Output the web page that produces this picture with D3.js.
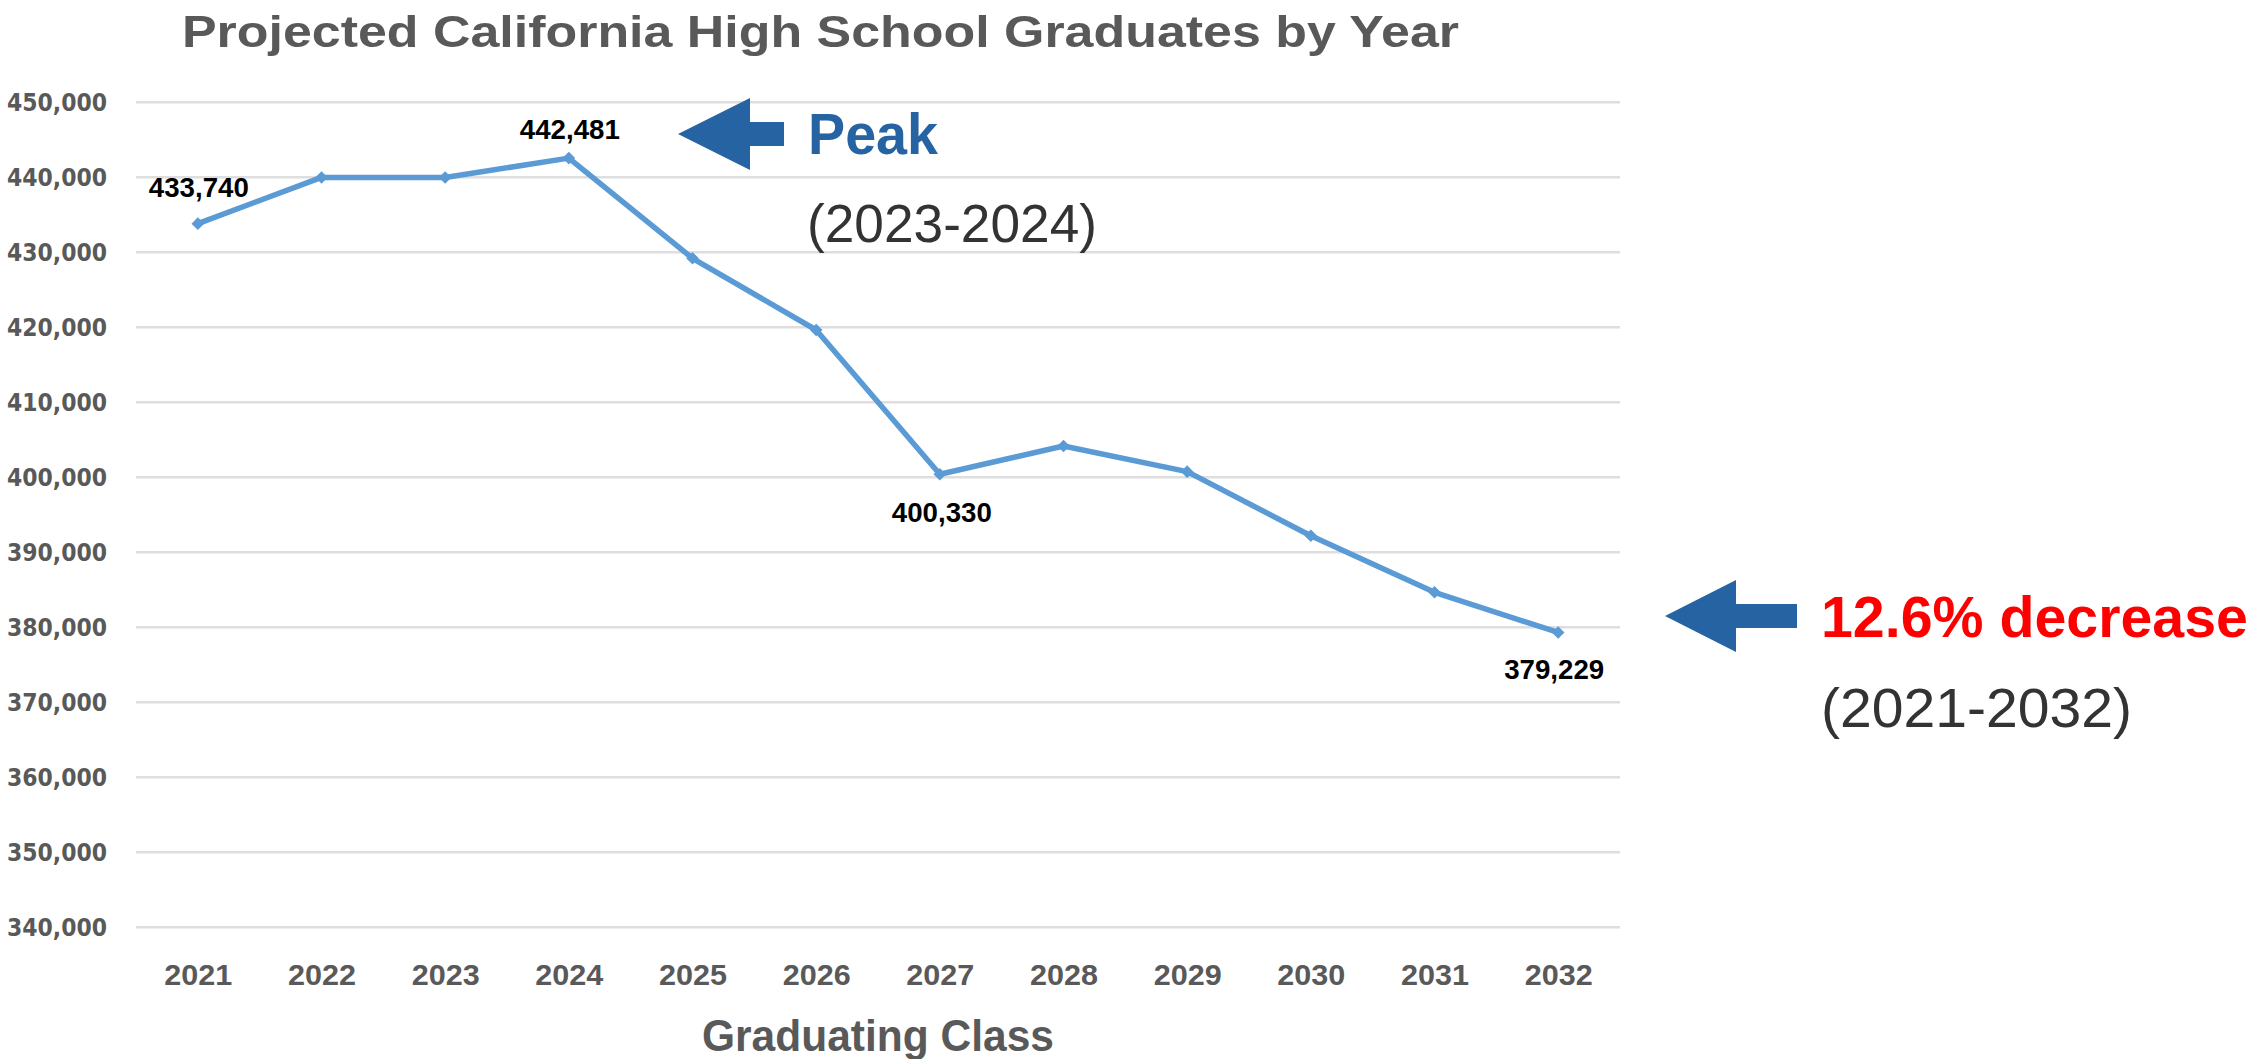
<!DOCTYPE html>
<html>
<head>
<meta charset="utf-8">
<script src="https://cdn.jsdelivr.net/npm/d3@7"></script>
<style>
  html, body { margin: 0; padding: 0; background: #ffffff; }
  svg { display: block; }
</style>
</head>
<body>
<div id="viz"></div>
<script>
// chart values
const years = [2021, 2022, 2023, 2024, 2025, 2026, 2027, 2028, 2029, 2030, 2031, 2032];
const graduates = [433740, 439900, 439900, 442481, 429120, 419560, 400330, 404090, 400670, 392130, 384590, 379229];
const yTicks = [340000, 350000, 360000, 370000, 380000, 390000, 400000, 410000, 420000, 430000, 440000, 450000];
const labelledYears = [2021, 2024, 2027, 2032];

const titleText = "Projected California High School Graduates by Year";
const xTitle = "Graduating Class";

const W = 2254, H = 1059;
//plot area edges (don't call these top/left, those clash with window globals)
const plotLeft = 136, plotRight = 1620, plotTop = 101.7, plotBottom = 926.7;

const svg = d3.select("#viz")
  .append("svg")
  .attr("width", W)
  .attr("height", H);

const x = d3.scalePoint()
  .domain(years)
  .range([plotLeft, plotRight])
  .padding(0.5);

const y = d3.scaleLinear()
  .domain([340000, 450000])
  .range([plotBottom, plotTop]);

const grey = "#595959";
const boldFont = "'Liberation Sans', Arial, sans-serif";

// title
svg.append("text")
  .attr("x", 182)
  .attr("y", 47)
  .attr("font-family", boldFont)
  .attr("font-weight", "bold")
  .attr("font-size", 45)
  .attr("fill", grey)
  .attr("textLength", 1277)
  .attr("lengthAdjust", "spacingAndGlyphs")
  .text(titleText);

// y axis + gridlines
const yAxis = svg.append("g")
  .attr("transform", `translate(${plotLeft},0)`)
  .call(d3.axisLeft(y)
    .tickValues(yTicks)
    .tickSize(-(plotRight - plotLeft))
    .tickPadding(29)
    .tickFormat(d3.format(",")));

yAxis.select(".domain").remove();
yAxis.selectAll(".tick line")
  .attr("stroke", "#dedede")
  .attr("stroke-width", 2.5);
yAxis.selectAll(".tick text")
  .attr("font-family", "'DejaVu Sans', Verdana, sans-serif")
  .attr("font-weight", "bold")
  .attr("font-size", 24)
  .attr("fill", grey)
  .attr("dy", "0.36em")
  .attr("textLength", 100)
  .attr("lengthAdjust", "spacingAndGlyphs");

// x axis
const xAxis = svg.append("g")
  .attr("transform", `translate(0,${plotBottom})`)
  .call(d3.axisBottom(x).tickSize(0).tickPadding(0));

xAxis.select(".domain").remove();
xAxis.selectAll(".tick text")
  .attr("y", 58)
  .attr("dy", null)
  .attr("font-family", boldFont)
  .attr("font-weight", "bold")
  .attr("font-size", 30)
  .attr("fill", grey)
  .attr("textLength", 68)
  .attr("lengthAdjust", "spacingAndGlyphs");

// x axis title
svg.append("text")
  .attr("x", (plotLeft + plotRight) / 2)
  .attr("y", 1051)
  .attr("text-anchor", "middle")
  .attr("font-family", boldFont)
  .attr("font-weight", "bold")
  .attr("font-size", 44)
  .attr("fill", grey)
  .attr("textLength", 352)
  .attr("lengthAdjust", "spacingAndGlyphs")
  .text(xTitle);

// the line
const points = years.map((yr, i) => ({ year: yr, value: graduates[i] }));

const line = d3.line()
  .x(d => x(d.year))
  .y(d => y(d.value));

svg.append("path")
  .datum(points)
  .attr("d", line)
  .attr("fill", "none")
  .attr("stroke", "#5b9bd5")
  .attr("stroke-width", 5.5)
  .attr("stroke-linejoin", "round");

// diamond markers
svg.selectAll("path.marker")
  .data(points)
  .enter()
  .append("path")
  .attr("class", "marker")
  .attr("d", d3.symbol(d3.symbolSquare, 80)())
  .attr("fill", "#5b9bd5")
  .attr("transform", d => `translate(${x(d.year)},${y(d.value)}) rotate(45)`);

// data labels: above for the first two, below for the others
const labelShift = { 2021: [1, -27], 2024: [1, -19], 2027: [2, 48], 2032: [-4, 47] };
svg.selectAll("text.dataLabel")
  .data(points.filter(d => labelledYears.includes(d.year)))
  .enter()
  .append("text")
  .attr("class", "dataLabel")
  .attr("x", d => x(d.year) + labelShift[d.year][0])
  .attr("y", d => y(d.value) + labelShift[d.year][1])
  .attr("text-anchor", "middle")
  .attr("font-family", boldFont)
  .attr("font-weight", "bold")
  .attr("font-size", 27)
  .attr("fill", "#000000")
  .attr("textLength", 100)
  .attr("lengthAdjust", "spacingAndGlyphs")
  .text(d => d3.format(",")(d.value));

// annotation arrows (pointing left)
function arrow(tipX, tipY, headLen, headHalf, shaftEnd, shaftHalf) {
  const p = d3.path();
  p.moveTo(tipX, tipY);
  p.lineTo(tipX + headLen, tipY - headHalf);
  p.lineTo(tipX + headLen, tipY - shaftHalf);
  p.lineTo(shaftEnd, tipY - shaftHalf);
  p.lineTo(shaftEnd, tipY + shaftHalf);
  p.lineTo(tipX + headLen, tipY + shaftHalf);
  p.lineTo(tipX + headLen, tipY + headHalf);
  p.closePath();
  return p.toString();
}

const arrowBlue = "#2663a2";

svg.append("path")
  .attr("d", arrow(678, 134, 72, 36, 784, 12))
  .attr("fill", arrowBlue);

svg.append("text")
  .attr("x", 808)
  .attr("y", 154)
  .attr("font-family", boldFont)
  .attr("font-weight", "bold")
  .attr("font-size", 57)
  .attr("fill", arrowBlue)
  .attr("textLength", 130)
  .attr("lengthAdjust", "spacingAndGlyphs")
  .text("Peak");

svg.append("text")
  .attr("x", 807)
  .attr("y", 242)
  .attr("font-family", boldFont)
  .attr("font-size", 54)
  .attr("fill", "#333333")
  .attr("textLength", 290)
  .attr("lengthAdjust", "spacingAndGlyphs")
  .text("(2023-2024)");

svg.append("path")
  .attr("d", arrow(1665, 616, 71, 36, 1797, 12))
  .attr("fill", arrowBlue);

svg.append("text")
  .attr("x", 1821)
  .attr("y", 637)
  .attr("font-family", boldFont)
  .attr("font-weight", "bold")
  .attr("font-size", 58)
  .attr("fill", "#ff0000")
  .attr("textLength", 427)
  .attr("lengthAdjust", "spacingAndGlyphs")
  .text("12.6% decrease");

svg.append("text")
  .attr("x", 1821)
  .attr("y", 727)
  .attr("font-family", boldFont)
  .attr("font-size", 56)
  .attr("fill", "#333333")
  .attr("textLength", 311)
  .attr("lengthAdjust", "spacingAndGlyphs")
  .text("(2021-2032)");
</script>
</body>
</html>
